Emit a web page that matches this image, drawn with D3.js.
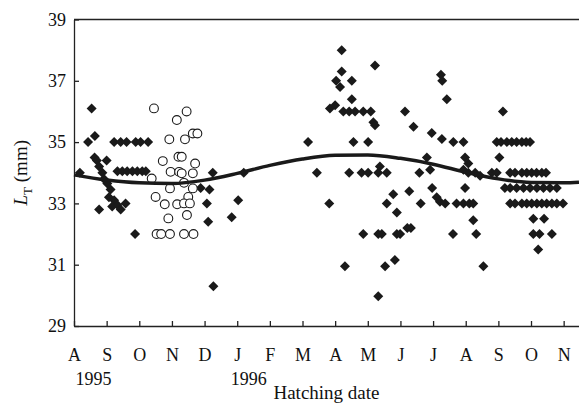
<!DOCTYPE html>
<html>
<head>
<meta charset="utf-8">
<script src="https://cdn.jsdelivr.net/npm/d3@7"></script>
<style>
  body { margin: 0; background: #fff; }
  svg { display: block; }
  .axis path, .axis line { stroke: #222; stroke-width: 1.3px; }
</style>
</head>
<body>
<script>
(function(){

    //month tick labels, Aug 1995 .. Nov 1996 (index 0 = 1 Aug 1995)
    var monthLabels = ["A","S","O","N","D","J","F","M","A","M","J","J","A","S","O","N"];
    var yearLabels = [["1995", 0.6], ["1996", 5.35]];
    var yTicks = [29, 31, 33, 35, 37, 39];

    //filled diamonds: [month, L_T mm]
    var diamonds = [
        [0.18,34.0],[0.54,36.1],[0.43,35.0],[0.64,35.2],[0.63,34.5],[0.70,34.4],[1.00,34.4],
        [0.77,34.2],[0.87,34.0],[0.92,33.8],[1.02,33.65],[1.12,33.45],[1.07,33.2],[1.23,33.1],
        [1.17,32.9],[1.33,32.95],[1.43,32.8],[1.58,33.0],[0.77,32.8],[1.87,32.0],
        [1.23,35.0],[1.43,35.0],[1.61,35.0],[1.89,35.0],[2.04,35.0],[2.27,35.0],
        [1.33,34.05],[1.48,34.05],[1.63,34.05],[1.79,34.05],[1.94,34.05],[2.09,34.05],[2.20,34.05],
        [3.88,33.5],[4.15,33.45],[4.25,34.0],[4.07,33.0],[4.11,32.4],[4.27,30.3],
        [4.83,32.55],[5.03,33.1],[5.20,34.0],
        [7.17,35.0],[7.44,34.0],[7.82,33.0],[8.30,30.95],[7.84,36.1],[8.00,36.2],[8.03,37.0],
        [8.15,36.8],[8.20,37.3],[8.20,38.0],[8.51,37.0],[8.51,36.4],
        [8.25,36.0],[8.43,36.0],[8.61,36.0],[8.86,36.0],[9.09,36.0],
        [9.17,35.65],[9.22,35.55],[9.22,37.5],[8.56,35.0],[9.01,35.0],
        [8.43,34.0],[8.81,34.0],[9.01,34.0],[9.32,34.0],[9.58,34.0],[9.37,34.2],
        [9.78,33.3],[9.58,33.0],[9.89,32.7],
        [8.86,32.0],[9.32,32.0],[9.43,32.0],[9.89,32.0],[9.99,32.0],
        [10.21,32.2],[9.53,30.95],[9.83,31.15],[9.32,29.97],
        [10.14,36.0],[10.27,33.4],[10.40,35.5],[10.58,34.0],[10.62,33.0],[10.32,32.2],
        [11.24,37.2],[11.28,37.0],[11.42,36.4],[10.81,34.5],[10.91,34.1],[10.96,35.3],
        [11.27,35.1],[11.62,35.0],[11.93,35.0],[10.97,33.5],[11.11,33.2],[11.21,33.05],
        [11.37,33.0],[11.72,33.0],[11.93,33.0],[12.11,33.0],[12.23,33.0],
        [11.98,33.5],[11.98,34.5],[12.08,34.3],[11.93,34.1],[12.08,34.0],[12.29,34.0],[12.44,33.9],
        [12.23,32.45],[11.61,32.0],[12.32,32.0],[12.54,30.95],
        [13.14,36.0],
        [12.95,35.0],[13.08,35.0],[13.26,35.0],[13.41,35.0],[13.56,35.0],[13.72,35.0],[13.85,35.0],[13.97,35.0],
        [13.03,34.5],
        [12.80,34.0],[12.95,34.0],[13.36,34.0],[13.51,34.0],[13.72,34.0],[13.87,34.0],[14.02,34.0],[14.17,34.0],[14.33,34.0],[14.46,34.0],
        [13.20,33.5],[13.36,33.5],[13.56,33.5],[13.77,33.5],[13.97,33.5],[14.18,33.5],[14.38,33.5],[14.58,33.5],[14.79,33.5],
        [13.36,33.0],[13.51,33.0],[13.72,33.0],[13.87,33.0],[14.02,33.0],[14.18,33.0],[14.33,33.0],[14.48,33.0],[14.64,33.0],[14.79,33.0],[14.98,33.0],
        [14.07,32.5],[14.40,32.5],
        [14.07,32.0],[14.26,32.0],[14.64,32.0],
        [14.22,31.5]
    ];

    //open circles: [month, L_T mm]
    var circles = [
        [2.45,36.1],[3.15,35.72],[3.45,36.0],[2.92,35.09],[3.40,35.09],[3.64,35.28],[3.78,35.28],
        [2.72,34.38],[3.20,34.52],[3.30,34.52],[3.71,34.3],[2.96,34.03],[3.22,34.03],[3.64,33.98],
        [3.30,33.98],[2.38,33.81],[2.94,33.49],[3.37,33.67],[3.64,33.49],[2.50,33.21],[3.50,33.21],
        [2.78,32.97],[3.16,32.97],[3.37,33.0],[3.55,33.0],[2.89,32.51],[3.46,32.62],
        [2.53,32.0],[2.67,32.0],[2.94,32.0],[3.37,32.0],[3.66,32.0]
    ];

    //fitted curve
    var curveMonth = [0, 1, 2, 3, 4, 5, 6, 7, 8, 9, 10, 11, 12, 13, 14, 15, 15.47];
    var curveLen = [33.93, 33.76, 33.67, 33.65, 33.76, 33.98, 34.24, 34.45, 34.57, 34.58, 34.47, 34.28, 34.02, 33.80, 33.68, 33.67, 33.69];

    var width = 579, height = 404;
    var margin = {left: 74, right: 0, top: 19.5, bottom: 78};
    var serif = "'Liberation Serif', 'Times New Roman', serif";

    var svg = d3.select("body").append("svg")
        .attr("width", width)
        .attr("height", height);

    var x = d3.scaleLinear()
        .domain([0, 15.47])
        .range([margin.left, width - margin.right]);

    var y = d3.scaleLinear()
        .domain([29, 39])
        .range([height - margin.bottom, margin.top]);

    //x axis, ticks pointing inward
    var xAxis = d3.axisBottom(x)
        .tickValues(d3.range(monthLabels.length))
        .tickFormat(function(d){ return monthLabels[d]; })
        .tickSizeInner(-5)
        .tickSizeOuter(0)
        .tickPadding(22);

    var gx = svg.append("g")
        .attr("class", "axis")
        .attr("transform", "translate(0," + y(29) + ")")
        .call(xAxis);

    //y axis
    var yAxis = d3.axisLeft(y)
        .tickValues(yTicks)
        .tickSizeInner(-5)
        .tickSizeOuter(0)
        .tickPadding(8);

    var gy = svg.append("g")
        .attr("class", "axis")
        .attr("transform", "translate(" + x(0) + ",0)")
        .call(yAxis);

    [gx, gy].forEach(function(g){
        g.selectAll("text")
            .style("font-family", serif)
            .style("font-size", "18px")
            .style("fill", "#111");
    });

    //top frame line
    svg.append("line")
        .attr("x1", x(0)).attr("x2", x(15.47))
        .attr("y1", y(39)).attr("y2", y(39))
        .attr("stroke", "#222")
        .attr("stroke-width", 1.3);

    //year labels
    svg.selectAll(".year")
        .data(yearLabels)
        .enter()
        .append("text")
        .attr("class", "year")
        .attr("x", function(d){ return x(d[1]); })
        .attr("y", 385)
        .attr("text-anchor", "middle")
        .style("font-family", serif)
        .style("font-size", "18px")
        .style("fill", "#111")
        .text(function(d){ return d[0]; });

    //axis titles
    svg.append("text")
        .attr("x", (x(0) + x(15.47)) / 2)
        .attr("y", 399)
        .attr("text-anchor", "middle")
        .style("font-family", serif)
        .style("font-size", "19px")
        .style("fill", "#111")
        .text("Hatching date");

    var yTitle = svg.append("text")
        .attr("transform", "translate(27," + y(34) + ") rotate(-90)")
        .attr("text-anchor", "middle")
        .style("font-family", serif)
        .style("font-size", "19px")
        .style("fill", "#111");
    yTitle.append("tspan").style("font-style", "italic").text("L");
    yTitle.append("tspan").attr("dy", 5).style("font-size", "13px").text("T");
    yTitle.append("tspan").attr("dy", -5).text(" (mm)");

    //diamonds
    svg.selectAll(".dia")
        .data(diamonds)
        .enter()
        .append("path")
        .attr("class", "dia")
        .attr("d", "M0,-5L5,0L0,5L-5,0Z")
        .attr("transform", function(d){
            return "translate(" + x(d[0]) + "," + y(d[1]) + ")";
        })
        .attr("fill", "#1a1a1a");

    //open circles
    svg.selectAll(".circ")
        .data(circles)
        .enter()
        .append("circle")
        .attr("class", "circ")
        .attr("cx", function(d){ return x(d[0]); })
        .attr("cy", function(d){ return y(d[1]); })
        .attr("r", 4.4)
        .attr("fill", "#fff")
        .attr("stroke", "#1a1a1a")
        .attr("stroke-width", 1.1);

    //fitted curve
    var line = d3.line()
        .x(function(d){ return x(d); })
        .y(function(d, i){ return y(curveLen[i]); })
        .curve(d3.curveMonotoneX);

    svg.append("path")
        .datum(curveMonth)
        .attr("d", line)
        .attr("fill", "none")
        .attr("stroke", "#1a1a1a")
        .attr("stroke-width", 3.5);

})();
</script>
</body>
</html>
